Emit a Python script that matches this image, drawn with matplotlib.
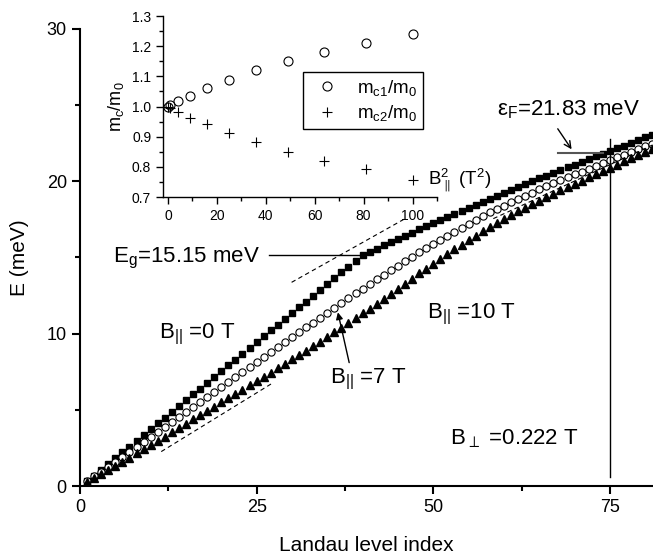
import numpy as np
import matplotlib
matplotlib.use("Agg")
import matplotlib.pyplot as plt
from matplotlib.ticker import MultipleLocator

plt.rcParams['font.family'] = ['Liberation Sans', 'DejaVu Sans']
plt.rcParams['mathtext.default'] = 'regular'

# ---------------- data ----------------
level = np.arange(1, 82)

# B|| = 0 T (filled squares)
E_0T = [0.30, 0.68, 1.06, 1.44, 1.82, 2.21, 2.59, 2.97, 3.35, 3.73,
        4.11, 4.49, 4.87, 5.25, 5.63, 6.02, 6.40, 6.78, 7.16, 7.54,
        7.92, 8.30, 8.68, 9.06, 9.44, 9.83, 10.21, 10.59, 10.97, 11.35,
        11.73, 12.11, 12.49, 12.87, 13.25, 13.64, 14.02, 14.40, 14.78, 15.16,
        15.37, 15.58, 15.79, 16.00, 16.21, 16.42, 16.63, 16.84, 17.05, 17.26,
        17.46, 17.65, 17.85, 18.04, 18.24, 18.43, 18.63, 18.82, 19.02, 19.21,
        19.41, 19.60, 19.80, 19.99, 20.19, 20.37, 20.55, 20.73, 20.91, 21.09,
        21.27, 21.45, 21.63, 21.81, 21.99, 22.17, 22.35, 22.53, 22.71, 22.89,
        23.07]

# B|| = 7 T (open circles)
E_7T = [0.30, 0.63, 0.95, 1.28, 1.60, 1.93, 2.26, 2.58, 2.91, 3.23,
        3.56, 3.89, 4.21, 4.54, 4.86, 5.19, 5.52, 5.84, 6.17, 6.49,
        6.82, 7.15, 7.47, 7.80, 8.12, 8.45, 8.78, 9.10, 9.43, 9.75,
        10.08, 10.41, 10.73, 11.06, 11.38, 11.71, 12.03, 12.35, 12.66, 12.96,
        13.26, 13.56, 13.86, 14.16, 14.46, 14.75, 15.04, 15.33, 15.61, 15.89,
        16.16, 16.43, 16.70, 16.96, 17.22, 17.47, 17.72, 17.96, 18.19, 18.41,
        18.63, 18.84, 19.05, 19.26, 19.47, 19.67, 19.87, 20.07, 20.26, 20.45,
        20.64, 20.83, 21.02, 21.21, 21.40, 21.58, 21.76, 21.94, 22.12, 22.30,
        22.48]

# B|| = 10 T (filled triangles)
E_10T = [0.28, 0.54, 0.80, 1.06, 1.33, 1.60, 1.87, 2.14, 2.41, 2.69,
         2.97, 3.25, 3.53, 3.81, 4.09, 4.37, 4.65, 4.93, 5.21, 5.49,
         5.77, 6.05, 6.33, 6.61, 6.89, 7.17, 7.45, 7.73, 8.02, 8.31,
         8.60, 8.89, 9.18, 9.48, 9.78, 10.08, 10.39, 10.70, 11.01, 11.33,
         11.65, 11.97, 12.30, 12.63, 12.96, 13.29, 13.62, 13.95, 14.27, 14.59,
         14.91, 15.22, 15.53, 15.83, 16.13, 16.43, 16.72, 17.00, 17.27, 17.53,
         17.79, 18.04, 18.28, 18.51, 18.74, 18.96, 19.18, 19.40, 19.62, 19.84,
         20.05, 20.26, 20.47, 20.68, 20.89, 21.10, 21.31, 21.51, 21.71, 21.91,
         22.11]

# dashed guide lines (n, E)
guide_upper_n = [29.95, 46.2]
guide_upper_E = [13.37, 17.6]
guide_low_n = [11.5, 27.4]
guide_low_E = [2.26, 6.8]
guide_right_n = [58.5, 81.1]
guide_right_E = [17.55, 22.4]

Eg = 15.15
EF = 21.83
n_fermi = 75

# inset: effective masses vs B||^2
B2 = [0, 1, 4, 9, 16, 25, 36, 49, 64, 81, 100]
mc1 = [1.000, 1.005, 1.018, 1.035, 1.060, 1.088, 1.121, 1.152, 1.182, 1.209, 1.242]
mc2 = [1.000, 0.994, 0.983, 0.963, 0.941, 0.912, 0.881, 0.848, 0.819, 0.792, 0.756]

# ---------------- figure ----------------
fig = plt.figure(figsize=(6.53, 5.54), dpi=100)
ax = fig.add_axes([0.1225, 0.1227, 0.8775, 0.8250])

ax.plot(level, E_0T, ls='none', marker='s', ms=5, color='k', clip_on=False)
ax.plot(level, E_7T, ls='none', marker='o', ms=5.2, mfc='white', mec='k', mew=0.8)
ax.plot(level, E_10T, ls='none', marker='^', ms=5.5, color='k')

ax.plot(guide_upper_n, guide_upper_E, 'k--', lw=0.8, dashes=(4, 3))
ax.plot(guide_low_n, guide_low_E, 'k--', lw=0.8, dashes=(4, 3))
ax.plot(guide_right_n, guide_right_E, 'k--', lw=0.8, dashes=(4, 3))

# gap line and label
ax.plot([26.8, 39.6], [Eg, Eg], color='k', lw=1)
ax.text(4.67, 14.65, r'$E_g$=15.15 meV', fontsize=16, va='baseline', ha='left')

# Fermi level
ax.plot([67.6, 74.0], [EF, EF], color='#555555', lw=1.5)
ax.annotate('', xy=(69.8, 21.95), xytext=(67.4, 23.6),
            arrowprops=dict(arrowstyle='->', color='k', lw=1, mutation_scale=12))
ax.text(59.0, 24.3, r'$\varepsilon_F$=21.83 meV', fontsize=16, va='baseline', ha='left')
ax.plot([n_fermi, n_fermi], [0.6, 22.8], color='k', lw=1)

# field labels
ax.text(11.2, 9.7, r'$B_{||}$ =0 T', fontsize=16, va='baseline')
ax.text(49.05, 11.03, r'$B_{||}$ =10 T', fontsize=16, va='baseline')
ax.text(35.4, 6.76, r'$B_{||}$ =7 T', fontsize=16, va='baseline')
ax.annotate('', xy=(36.5, 11.4), xytext=(38.1, 8.1),
            arrowprops=dict(arrowstyle='-|>', color='k', lw=1,
                            mutation_scale=10, shrinkA=0, shrinkB=0))
ax.text(52.3, 2.7, r'$B_{\perp}$ =0.222 T', fontsize=16, va='baseline')

ax.set_xlim(0, 81.1)
ax.set_ylim(0, 30)
ax.xaxis.set_major_locator(MultipleLocator(25))
ax.xaxis.set_minor_locator(MultipleLocator(12.5))
ax.yaxis.set_major_locator(MultipleLocator(10))
ax.yaxis.set_minor_locator(MultipleLocator(5))
for s in ['top', 'right']:
    ax.spines[s].set_visible(False)
for s in ['left', 'bottom']:
    ax.spines[s].set_linewidth(1.5)
ax.tick_params(which='major', direction='out', length=6, width=1.5, labelsize=13)
ax.tick_params(which='minor', direction='out', length=3.5, width=1.5)
ax.set_xlabel('Landau level index', fontsize=15, labelpad=14)
ax.set_ylabel('E (meV)', fontsize=15, labelpad=13)

# ---------------- inset ----------------
ins = fig.add_axes([0.2496, 0.6444, 0.4196, 0.3267])
ins.patch.set_alpha(0)
ins.plot(B2, mc1, ls='none', marker='o', ms=6.5, mfc='none', mec='k', mew=0.8,
         label=r'$m_{c1}/m_0$')
ins.plot(B2, mc2, ls='none', marker='+', ms=6.5, color='k', mew=0.8,
         label=r'$m_{c2}/m_0$')
ins.set_xlim(-2, 110)
ins.set_ylim(0.7, 1.3)
ins.xaxis.set_major_locator(MultipleLocator(20))
ins.xaxis.set_minor_locator(MultipleLocator(10))
ins.yaxis.set_major_locator(MultipleLocator(0.1))
ins.yaxis.set_minor_locator(MultipleLocator(0.05))
ins.yaxis.set_major_formatter(matplotlib.ticker.FormatStrFormatter('%.1f'))
for s in ['top', 'right']:
    ins.spines[s].set_visible(False)
for s in ['left', 'bottom']:
    ins.spines[s].set_linewidth(1)
ins.tick_params(which='major', direction='out', length=5, width=1, labelsize=10)
ins.tick_params(which='minor', direction='out', length=3, width=1)
ins.set_ylabel(r'$m_c/m_0$', fontsize=13, labelpad=4)
ins.text(106.3, 0.74, r'$B_{\parallel}^{2}$ (T$^2$)', fontsize=13.5,
         va='baseline', ha='left', clip_on=False)
leg = ins.legend(loc='upper left', bbox_to_anchor=(0.511, 0.69), borderaxespad=0,
                 fontsize=13.5, fancybox=False, edgecolor='k', framealpha=1,
                 handletextpad=0.6, borderpad=0.3, labelspacing=0.3)
leg.get_frame().set_linewidth(1)

fig.savefig('out.png', dpi=100)
